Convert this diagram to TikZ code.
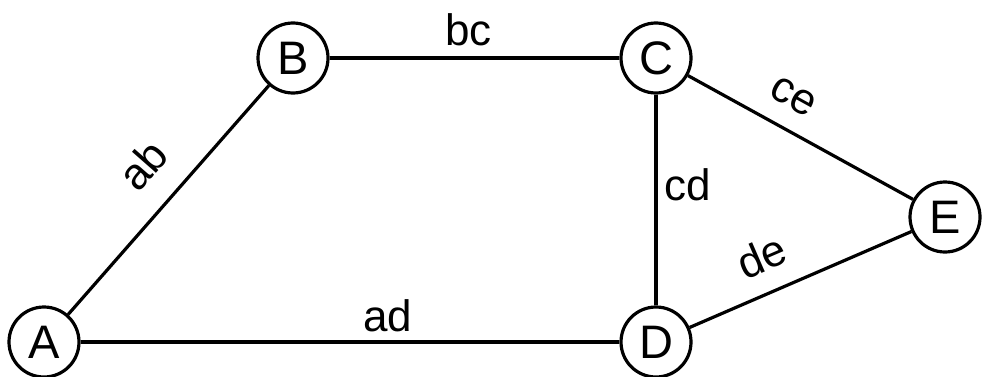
\documentclass[tikz,border=0pt]{standalone}
\usepackage{fontspec}
\setmainfont{Liberation Sans}
\usepackage{tikz}

\begin{document}
\begin{tikzpicture}[x=0.5pt, y=0.5pt,
		vertex/.style={circle, draw, line width=1.6pt, minimum size=35pt, inner sep=0pt,
			font=\fontsize{23.5}{28}\selectfont},
		link/.style={line width=1.6pt},
		cost/.style={font=\fontsize{22}{26}\selectfont}]
		
		\useasboundingbox (0,0) rectangle (983,376);
		
		\node[vertex] (A) at (44,34) {A};
		\node[vertex] (B) at (293,318) {B};
		\node[vertex] (C) at (656,318) {C};
		\node[vertex] (D) at (656,34) {D};
		\node[vertex] (E) at (945,159) {E};
		
		\draw[link] (A) -- node[cost, sloped, above=9pt, pos=0.53] {ab} (B);
		\draw[link] (B) -- node[cost, above=2pt, pos=0.48] {bc} (C);
		\draw[link] (C) -- node[cost, right, pos=0.43] {cd} (D);
		\draw[link] (C) -- node[cost, sloped, above=6pt, pos=0.40] {ce} (E);
		\draw[link] (D) -- node[cost, sloped, above=6.4pt, pos=0.39] {de} (E);
		\draw[link] (A) -- node[cost, above=1pt, pos=0.57] {ad} (D);
		
	\end{tikzpicture}
\end{document}
